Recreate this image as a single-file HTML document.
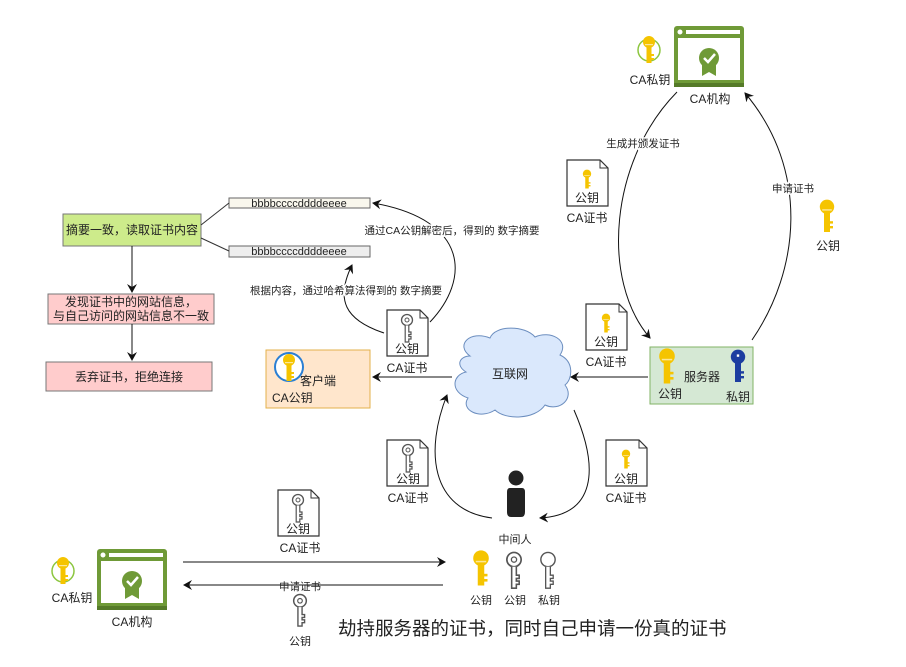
<!DOCTYPE html>
<html><head><meta charset="utf-8"><style>
html,body{margin:0;padding:0;background:#fff;}
svg{display:block;}
text{font-family:"Liberation Sans","Noto Sans CJK SC",sans-serif;fill:#222;}
</style></head><body>
<svg width="906" height="667" viewBox="0 0 906 667" xmlns="http://www.w3.org/2000/svg">
<defs>
<marker id="ar" markerWidth="10" markerHeight="10" refX="8" refY="5" orient="auto" markerUnits="userSpaceOnUse">
<path d="M0,0 L9,5 L0,10 L3,5 Z" fill="#111"/></marker>
<g id="ykey"><circle cx="0" cy="-6" r="6" fill="#f5c400"/><rect x="-2.5" y="-1" width="5" height="16" fill="#f5c400"/><rect x="2" y="6" width="3" height="2" fill="#f5c400"/><rect x="2" y="10" width="3" height="2" fill="#f5c400"/><rect x="-4" y="-4" width="8" height="1.2" fill="#fff" opacity=".6"/></g>
<g id="gkey"><circle cx="0" cy="-8" r="5.5" fill="#fff" stroke="#555" stroke-width="1.3"/><circle cx="0" cy="-8" r="2" fill="none" stroke="#555" stroke-width="1"/><path d="M-1.8,-2.5 V14 H1.8 V11 H4 V8.5 H1.8 V6.5 H4 V4 H1.8 V-2.5" fill="#fff" stroke="#555" stroke-width="1.2"/></g>
<g id="cert"><path d="M0,0 H33 L41,8 V46 H0 Z" fill="#fff" stroke="#333" stroke-width="1.2"/><path d="M33,0 V8 H41" fill="none" stroke="#333" stroke-width="1"/></g>
<g id="ca"><rect x="0" y="0" width="70" height="61" rx="3" fill="#6f9a37"/><rect x="4" y="12" width="62" height="42" fill="#fff"/><circle cx="6" cy="6" r="2.5" fill="#fff"/><rect x="12" y="4" width="54" height="4" fill="#fff"/><rect x="0" y="57" width="70" height="4" fill="#557a28"/>
<path d="M28,36 L28,50 L35,46 L42,50 L42,36 Z" fill="#6f9a37"/><circle cx="35" cy="32" r="10" fill="#6f9a37"/><path d="M30,32 L34,36 L41,28" fill="none" stroke="#fff" stroke-width="2.5"/></g>
<g id="cakey"><circle cx="0" cy="0" r="11" fill="none" stroke="#8cc63f" stroke-width="1.5"/><use href="#ykey" transform="translate(0,-2)"/></g>
</defs>

<rect x="63" y="214" width="138" height="32" fill="#cdeb8b" stroke="#777"/>
<text x="132" y="234" font-size="12" text-anchor="middle">摘要一致，读取证书内容</text>
<rect x="229" y="198" width="141" height="10" fill="#f9f7ed" stroke="#666"/>
<text x="299" y="207" font-size="11" text-anchor="middle">bbbbccccddddeeee</text>
<rect x="229" y="246" width="141" height="11" fill="#eeeeee" stroke="#666"/>
<text x="299" y="255" font-size="11" text-anchor="middle">bbbbccccddddeeee</text>
<line x1="201" y1="225" x2="229" y2="203" stroke="#333"/>
<line x1="201" y1="238" x2="229" y2="251" stroke="#333"/>
<line x1="132" y1="246" x2="132" y2="292" stroke="#111" marker-end="url(#ar)"/>
<rect x="48" y="294" width="166" height="30" fill="#ffcccc" stroke="#777"/>
<text x="131" y="306" font-size="12" text-anchor="middle">发现证书中的网站信息，</text>
<text x="131" y="320" font-size="12" text-anchor="middle">与自己访问的网站信息不一致</text>
<line x1="132" y1="324" x2="132" y2="360" stroke="#111" marker-end="url(#ar)"/>
<rect x="46" y="362" width="166" height="29" fill="#ffcccc" stroke="#777"/>
<text x="129" y="381" font-size="12" text-anchor="middle">丢弃证书，拒绝连接</text>

<rect x="266" y="350" width="104" height="58" fill="#ffe6cc" stroke="#e3b04b"/>
<circle cx="289" cy="367" r="14" fill="#fff" stroke="#2a7fd4" stroke-width="2"/>
<use href="#ykey" transform="translate(289,366)"/>
<text x="300" y="385" font-size="12">客户端</text>
<text x="272" y="402" font-size="12">CA公钥</text>

<use href="#cert" transform="translate(387,310)"/>
<use href="#gkey" transform="translate(407,328)"/>
<text x="407" y="353" font-size="12" text-anchor="middle">公钥</text>
<text x="407" y="372" font-size="12" text-anchor="middle">CA证书</text>
<path d="M430,322 C470,280 470,220 373,203" fill="none" stroke="#111" marker-end="url(#ar)"/>
<text x="452" y="234" font-size="10.5" text-anchor="middle" stroke="#fff" stroke-width="3" paint-order="stroke">通过CA公钥解密后，得到的 数字摘要</text>
<path d="M384,333 C345,320 335,300 352,265" fill="none" stroke="#111" marker-end="url(#ar)"/>
<text x="346" y="294" font-size="10.5" text-anchor="middle" stroke="#fff" stroke-width="3" paint-order="stroke">根据内容，通过哈希算法得到的 数字摘要</text>

<path d="M470,356 C455,345 470,330 490,338 C495,325 525,325 535,337 C550,330 570,340 560,355 C575,362 572,380 565,385 C575,398 560,412 545,405 C535,420 505,420 495,410 C480,420 460,410 468,398 C450,392 452,375 466,372 C455,365 460,356 470,356 Z" fill="#dae8fc" stroke="#6c8ebf"/>
<text x="510" y="378" font-size="12" text-anchor="middle">互联网</text>
<line x1="452" y1="377" x2="373" y2="377" stroke="#111" marker-end="url(#ar)"/>
<line x1="648" y1="377" x2="571" y2="377" stroke="#111" marker-end="url(#ar)"/>

<rect x="650" y="347" width="103" height="57" fill="#d5e8d4" stroke="#82b366"/>
<use href="#ykey" transform="translate(667,364) scale(1.3)"/>
<text x="670" y="398" font-size="12" text-anchor="middle">公钥</text>
<text x="702" y="381" font-size="12" text-anchor="middle">服务器</text>
<g transform="translate(738,364) scale(1.2)"><circle cx="0" cy="-6" r="6" fill="#1c3da0"/><rect x="-2.5" y="-1" width="5" height="16" fill="#1c3da0"/><rect x="2" y="6" width="3" height="2" fill="#1c3da0"/><rect x="2" y="10" width="3" height="2" fill="#1c3da0"/><rect x="-1" y="-8" width="2" height="2" fill="#fff"/></g>
<text x="738" y="401" font-size="12" text-anchor="middle">私钥</text>

<use href="#ca" transform="translate(674,26)"/>
<text x="710" y="103" font-size="12" text-anchor="middle">CA机构</text>
<use href="#cakey" transform="translate(649,50)"/>
<text x="650" y="84" font-size="12" text-anchor="middle">CA私钥</text>
<path d="M677,92 C610,160 600,280 650,338" fill="none" stroke="#111" marker-end="url(#ar)"/>
<text x="643" y="147" font-size="10.5" text-anchor="middle" stroke="#fff" stroke-width="3" paint-order="stroke">生成并颁发证书</text>
<path d="M752,340 C800,270 810,170 745,93" fill="none" stroke="#111" marker-end="url(#ar)"/>
<text x="793" y="192" font-size="10.5" text-anchor="middle" stroke="#fff" stroke-width="3" paint-order="stroke">申请证书</text>
<use href="#cert" transform="translate(567,160)"/>
<use href="#ykey" transform="translate(587,178) scale(0.7)"/>
<text x="587" y="202" font-size="12" text-anchor="middle">公钥</text>
<text x="587" y="222" font-size="12" text-anchor="middle">CA证书</text>
<use href="#ykey" transform="translate(827,214) scale(1.2)"/>
<text x="828" y="250" font-size="12" text-anchor="middle">公钥</text>
<use href="#cert" transform="translate(586,304)"/>
<use href="#ykey" transform="translate(606,322) scale(0.7)"/>
<text x="606" y="346" font-size="12" text-anchor="middle">公钥</text>
<text x="606" y="366" font-size="12" text-anchor="middle">CA证书</text>

<circle cx="516" cy="478" r="7.5" fill="#222"/>
<path d="M510,488 H522 Q525,488 525,492 V512 Q525,517 521,517 H511 Q507,517 507,512 V492 Q507,488 510,488 Z" fill="#222"/>
<text x="515" y="543" font-size="11" text-anchor="middle">中间人</text>
<path d="M492,518 C430,510 425,450 447,395" fill="none" stroke="#111" marker-end="url(#ar)"/>
<path d="M574,410 C600,470 595,515 540,518" fill="none" stroke="#111" marker-end="url(#ar)"/>
<use href="#cert" transform="translate(387,440)"/>
<use href="#gkey" transform="translate(408,458)"/>
<text x="408" y="483" font-size="12" text-anchor="middle">公钥</text>
<text x="408" y="502" font-size="12" text-anchor="middle">CA证书</text>
<use href="#cert" transform="translate(606,440)"/>
<use href="#ykey" transform="translate(626,458) scale(0.7)"/>
<text x="626" y="483" font-size="12" text-anchor="middle">公钥</text>
<text x="626" y="502" font-size="12" text-anchor="middle">CA证书</text>

<use href="#cert" transform="translate(278,490)"/>
<use href="#gkey" transform="translate(298,508)"/>
<text x="298" y="533" font-size="12" text-anchor="middle">公钥</text>
<text x="300" y="552" font-size="12" text-anchor="middle">CA证书</text>
<use href="#ca" transform="translate(97,549)"/>
<use href="#cakey" transform="translate(63,571)"/>
<text x="72" y="602" font-size="12" text-anchor="middle">CA私钥</text>
<text x="132" y="626" font-size="12" text-anchor="middle">CA机构</text>
<line x1="183" y1="562" x2="445" y2="562" stroke="#111" marker-end="url(#ar)"/>
<line x1="443" y1="585" x2="184" y2="585" stroke="#111" marker-end="url(#ar)"/>
<text x="300" y="590" font-size="10.5" text-anchor="middle">申请证书</text>
<use href="#gkey" transform="translate(300,610) scale(1.15)"/>
<text x="300" y="645" font-size="11" text-anchor="middle">公钥</text>
<use href="#ykey" transform="translate(481,566) scale(1.3)"/>
<use href="#gkey" transform="translate(514,570) scale(1.3)"/>
<g transform="translate(548,570) scale(1.3)"><circle cx="0" cy="-8" r="5.5" fill="#fff" stroke="#555" stroke-width="1.1"/><path d="M-1.8,-2.5 V14 H1.8 V11 H4 V8.5 H1.8 V6.5 H4 V4 H1.8 V-2.5" fill="#fff" stroke="#555" stroke-width="1"/></g>
<text x="481" y="604" font-size="11" text-anchor="middle">公钥</text>
<text x="515" y="604" font-size="11" text-anchor="middle">公钥</text>
<text x="549" y="604" font-size="11" text-anchor="middle">私钥</text>
<text x="338" y="635" font-size="18.5">劫持服务器的证书，同时自己申请一份真的证书</text>
</svg>
</body></html>
